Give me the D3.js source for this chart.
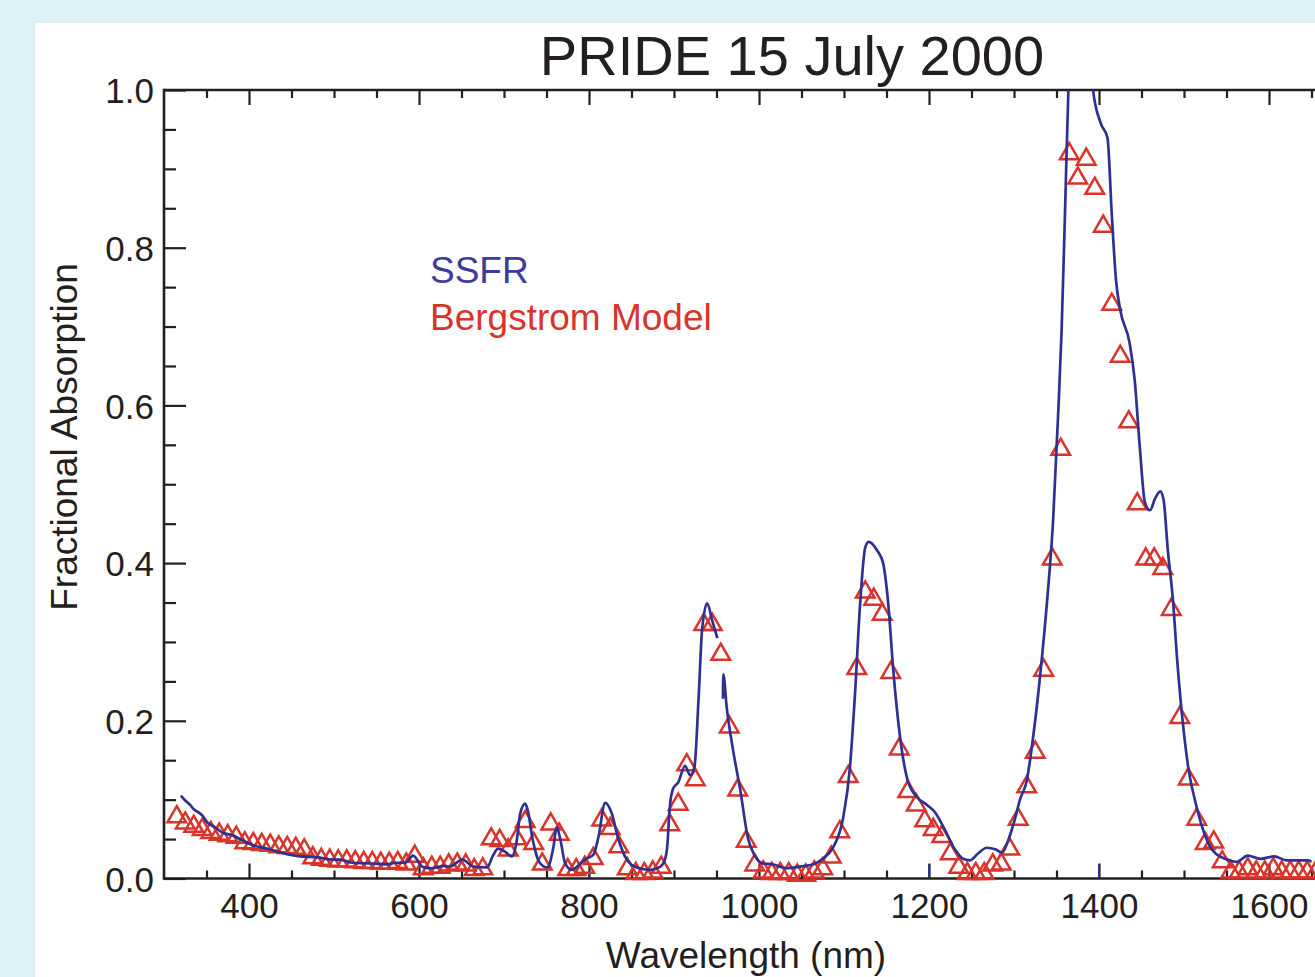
<!DOCTYPE html>
<html>
<head>
<meta charset="utf-8">
<script src="https://cdn.jsdelivr.net/npm/d3@7"></script>
<style>
  html, body { margin: 0; padding: 0; background: #dcf0f5; overflow: hidden; }
  svg { display: block; }
  text { font-family: "Liberation Sans", Arial, Helvetica, sans-serif; }
</style>
</head>
<body>
<svg id="chart" width="1315" height="977"></svg>
<script>
// ---------------- DATA ----------------
const titleText = "PRIDE 15 July 2000";
const xLabel = "Wavelength (nm)";
const yLabel = "Fractional Absorption";
const seriesNames = ["SSFR", "Bergstrom Model"];

const xTickValues = [400, 600, 800, 1000, 1200, 1400, 1600];
const yTickValues = [0.0, 0.2, 0.4, 0.6, 0.8, 1.0];

// Bergstrom model (triangles)
const modelWavelength = [
  315, 325, 335, 345, 355, 365, 375, 385, 395, 405, 415, 425, 435, 445, 455, 465,
  475, 485, 495, 505, 515, 525, 535, 545, 555, 565, 575, 585, 595, 605, 615, 625,
  635, 645, 655, 665, 675, 685, 695, 705, 715, 725, 735, 745, 755, 765, 775, 785,
  795, 805, 815, 825, 835, 845, 855, 865, 875, 885, 895, 905, 915, 925, 935, 945,
  955, 965, 975, 985, 995, 1005, 1015, 1025, 1035, 1045, 1055, 1065, 1075, 1085,
  1095, 1105, 1115, 1125, 1135, 1145, 1155, 1165, 1175, 1185, 1195, 1205, 1215,
  1225, 1235, 1245, 1255, 1265, 1275, 1285, 1295, 1305, 1315, 1325, 1335, 1345,
  1355, 1365, 1375, 1385, 1395, 1405, 1415, 1425, 1435, 1445, 1455, 1465, 1475,
  1485, 1495, 1505, 1515, 1525, 1535, 1545, 1555, 1565, 1575, 1585, 1595, 1605,
  1615, 1625, 1635, 1645, 1655
];
const modelAbsorption = [
  0.080, 0.072, 0.068, 0.064, 0.060, 0.058, 0.056, 0.054, 0.047, 0.046, 0.045, 0.044, 0.042, 0.041, 0.040, 0.038,
  0.028, 0.026, 0.025, 0.024, 0.024, 0.023, 0.022, 0.022, 0.021, 0.021, 0.022, 0.020, 0.030, 0.014, 0.016, 0.016,
  0.019, 0.020, 0.019, 0.013, 0.014, 0.052, 0.050, 0.038, 0.052, 0.074, 0.046, 0.020, 0.071, 0.058, 0.013, 0.013,
  0.016, 0.027, 0.076, 0.065, 0.042, 0.014, 0.008, 0.008, 0.010, 0.016, 0.070, 0.096, 0.146, 0.127, 0.324, 0.324,
  0.286, 0.194, 0.114, 0.049, 0.019, 0.010, 0.008, 0.008, 0.008, 0.006, 0.006, 0.010, 0.014, 0.029,
  0.061, 0.131, 0.268, 0.365, 0.356, 0.337, 0.263, 0.166, 0.112, 0.095, 0.075, 0.064, 0.055,
  0.033, 0.016, 0.008, 0.008, 0.008, 0.019, 0.020, 0.039, 0.077, 0.118, 0.162, 0.266, 0.407,
  0.546, 0.921, 0.890, 0.914, 0.877, 0.829, 0.730, 0.664, 0.581, 0.477, 0.407, 0.407, 0.395,
  0.343, 0.206, 0.128, 0.077, 0.046, 0.048, 0.023, 0.010, 0.010, 0.014, 0.010, 0.010, 0.014,
  0.010, 0.010, 0.010, 0.010, 0.010
];

// SSFR measurement (line), two segments (gap near 955 nm)
const ssfrWavelength1 = [
  320, 325, 331, 334, 345, 351, 360, 369, 380, 393, 405, 421, 440, 460, 480, 499, 507,
  522, 546, 562, 574, 584, 593, 604, 613, 621, 628, 636, 651, 664, 680, 687, 693, 701,
  709, 715, 719, 725, 728, 734, 742, 751, 758, 762, 766, 772, 780, 787, 795, 805, 811,
  819, 827, 834, 845, 856, 872, 884, 889, 892, 895, 899, 905, 913, 919, 924, 929, 933,
  939, 945, 951
];
const ssfrAbsorption1 = [
  0.105, 0.099, 0.093, 0.089, 0.080, 0.071, 0.065, 0.058, 0.055, 0.048, 0.042, 0.038, 0.032, 0.028, 0.027, 0.024, 0.024,
  0.020, 0.019, 0.018, 0.020, 0.020, 0.029, 0.015, 0.013, 0.014, 0.016, 0.015, 0.024, 0.015, 0.014, 0.029, 0.038, 0.034,
  0.028, 0.048, 0.082, 0.095, 0.086, 0.048, 0.020, 0.014, 0.039, 0.065, 0.051, 0.019, 0.011, 0.016, 0.024, 0.030, 0.052,
  0.096, 0.082, 0.052, 0.023, 0.014, 0.011, 0.015, 0.023, 0.040, 0.090, 0.114, 0.122, 0.143, 0.131, 0.141, 0.230, 0.315,
  0.349, 0.327, 0.305
];
const ssfrWavelength2 = [
  957.6, 958, 962, 969, 978, 987, 995, 1005, 1016, 1033, 1048, 1064, 1075, 1087, 1099,
  1107, 1113, 1119, 1125, 1129, 1139, 1146, 1152, 1158, 1166, 1175, 1186, 1198, 1207,
  1219, 1231, 1240, 1248, 1258, 1268, 1278, 1286, 1293, 1301, 1307, 1315, 1322, 1331,
  1339, 1346, 1352, 1356, 1360, 1364, 1368, 1378, 1388, 1393, 1402, 1410, 1415, 1420,
  1425, 1436, 1442, 1448, 1454, 1460, 1466, 1472, 1476, 1481, 1487, 1492, 1498, 1505,
  1515, 1525, 1535, 1551, 1562, 1575, 1590, 1606, 1621, 1646, 1650
];
const ssfrAbsorption2 = [
  0.228, 0.259, 0.217, 0.166, 0.112, 0.051, 0.029, 0.019, 0.018, 0.013, 0.015, 0.018, 0.025, 0.039, 0.077,
  0.141, 0.235, 0.349, 0.420, 0.427, 0.416, 0.400, 0.349, 0.264, 0.179, 0.124, 0.103, 0.093, 0.084,
  0.061, 0.036, 0.025, 0.023, 0.032, 0.039, 0.037, 0.033, 0.048, 0.075, 0.100, 0.124, 0.175, 0.260,
  0.353, 0.454, 0.590, 0.695, 0.844, 1.000, 1.080, 1.130, 1.070, 1.000, 0.958, 0.939, 0.843, 0.759,
  0.721, 0.679, 0.632, 0.547, 0.477, 0.467, 0.482, 0.491, 0.480, 0.416, 0.353, 0.277, 0.204, 0.141,
  0.090, 0.054, 0.034, 0.024, 0.021, 0.029, 0.025, 0.028, 0.023, 0.023, 0.021
];

// small blue tick remnants of the SSFR plot axis (wavelength, height in absorption units)
const ssfrAxisTickWl = [600, 800, 1000, 1200, 1400, 1600];
const ssfrAxisTickHeight = [0.004, 0.010, 0.002, 0.018, 0.018, 0.002];

// ---------------- LAYOUT / STYLE ----------------
const W = 1315, H = 977;
const plotLeft = 164, plotTop = 90, plotBottom = 878.5;
const pxPerNm = 0.85;
const xDomain = [300, 1700];
const plotRight = plotLeft + (xDomain[1] - xDomain[0]) * pxPerNm;

const inkColor = "#231f20";
const blue = "#2e3192";
const blueText = "#3d3b9c";
const red = "#d9342b";

const svg = d3.select("#chart");

svg.append("rect").attr("x", 0).attr("y", 0).attr("width", W).attr("height", H).attr("fill", "#dcf0f5");
svg.append("rect").attr("x", 35).attr("y", 23).attr("width", W).attr("height", H).attr("fill", "#ffffff");

const x = d3.scaleLinear().domain(xDomain).range([plotLeft, plotRight]);
const y = d3.scaleLinear().domain([0, 1]).range([plotBottom, plotTop]);

svg.append("defs").append("clipPath").attr("id", "plotClip")
  .append("rect").attr("x", plotLeft).attr("y", plotTop)
  .attr("width", plotRight - plotLeft).attr("height", plotBottom - plotTop + 4);

// ---------------- AXES ----------------
const minorX = d3.range(350, 1700, 50).filter(v => v % 200 !== 0);
const minorY = d3.range(0.05, 1.0, 0.05).filter(v => Math.abs(v * 5 - Math.round(v * 5)) > 1e-6);

function styleAxis(g) {
  g.select(".domain").remove();
  g.selectAll("line").attr("stroke", inkColor).attr("stroke-width", 2.2);
  g.selectAll("text").attr("fill", inkColor);
}

// bottom
svg.append("g").attr("transform", `translate(0,${plotBottom})`)
  .call(d3.axisBottom(x).tickValues(xTickValues).tickSize(-15).tickPadding(32).tickFormat(d3.format("d")))
  .call(g => g.selectAll("text").attr("font-size", 35).attr("dy", "0.71em").attr("y", 15))
  .call(styleAxis);
svg.append("g").attr("transform", `translate(0,${plotBottom})`)
  .call(d3.axisBottom(x).tickValues(minorX).tickSize(-8).tickFormat(""))
  .call(styleAxis);
// top
svg.append("g").attr("transform", `translate(0,${plotTop})`)
  .call(d3.axisTop(x).tickValues(xTickValues).tickSize(-15).tickFormat(""))
  .call(styleAxis);
svg.append("g").attr("transform", `translate(0,${plotTop})`)
  .call(d3.axisTop(x).tickValues(minorX).tickSize(-8).tickFormat(""))
  .call(styleAxis);
// left
svg.append("g").attr("transform", `translate(${plotLeft},0)`)
  .call(d3.axisLeft(y).tickValues(yTickValues).tickSize(-22).tickPadding(10).tickFormat(d3.format(".1f")))
  .call(g => g.selectAll("text").attr("font-size", 35).attr("x", -10).attr("dy", "0.36em"))
  .call(styleAxis);
svg.append("g").attr("transform", `translate(${plotLeft},0)`)
  .call(d3.axisLeft(y).tickValues(minorY).tickSize(-12).tickFormat(""))
  .call(styleAxis);

// axis lines
svg.append("line").attr("x1", plotLeft).attr("x2", plotRight).attr("y1", plotBottom).attr("y2", plotBottom)
  .attr("stroke", inkColor).attr("stroke-width", 2.6);
svg.append("line").attr("x1", plotLeft).attr("x2", plotRight).attr("y1", plotTop).attr("y2", plotTop)
  .attr("stroke", inkColor).attr("stroke-width", 2.6);
svg.append("line").attr("x1", plotLeft).attr("x2", plotLeft).attr("y1", plotTop - 1.3).attr("y2", plotBottom + 1.3)
  .attr("stroke", inkColor).attr("stroke-width", 2.6);

// blue tick remnants
svg.append("g").selectAll("line").data(ssfrAxisTickWl).join("line")
  .attr("x1", d => x(d)).attr("x2", d => x(d))
  .attr("y1", plotBottom - 1).attr("y2", (d, i) => y(ssfrAxisTickHeight[i]))
  .attr("stroke", blue).attr("stroke-width", 2);

// ---------------- MARKS ----------------
const plot = svg.append("g").attr("clip-path", "url(#plotClip)");

const tri = d3.symbol().type(d3.symbolTriangle).size(150);
plot.append("g").selectAll("path").data(modelWavelength).join("path")
  .attr("d", tri)
  .attr("transform", (d, i) => `translate(${x(d)},${y(modelAbsorption[i]) + 1.5})`)
  .attr("fill", "none").attr("stroke", red).attr("stroke-width", 2.5).attr("stroke-linejoin", "miter");

const line = d3.line().x(d => x(d[0])).y(d => y(d[1])).curve(d3.curveMonotoneX);
const seg1 = ssfrWavelength1.map((w, i) => [w, ssfrAbsorption1[i]]);
const seg2 = ssfrWavelength2.map((w, i) => [w, ssfrAbsorption2[i]]);
[seg1, seg2].forEach(seg => {
  plot.append("path").datum(seg).attr("d", line)
    .attr("fill", "none").attr("stroke", blue).attr("stroke-width", 2.7)
    .attr("stroke-linejoin", "round").attr("stroke-linecap", "butt");
});

// ---------------- TEXT ----------------
svg.append("text").attr("x", 792).attr("y", 75).attr("text-anchor", "middle")
  .attr("font-size", 56).attr("fill", inkColor).text(titleText);

svg.append("text").attr("x", 746).attr("y", 968).attr("text-anchor", "middle")
  .attr("font-size", 37).attr("fill", inkColor).text(xLabel);

svg.append("text").attr("transform", "translate(77,437) rotate(-90)").attr("text-anchor", "middle")
  .attr("font-size", 37).attr("fill", inkColor).text(yLabel);

svg.append("text").attr("x", 430).attr("y", 283).attr("font-size", 37).attr("fill", blueText).text(seriesNames[0]);
svg.append("text").attr("x", 430).attr("y", 330).attr("font-size", 37).attr("fill", red).text(seriesNames[1]);
</script>
</body>
</html>
